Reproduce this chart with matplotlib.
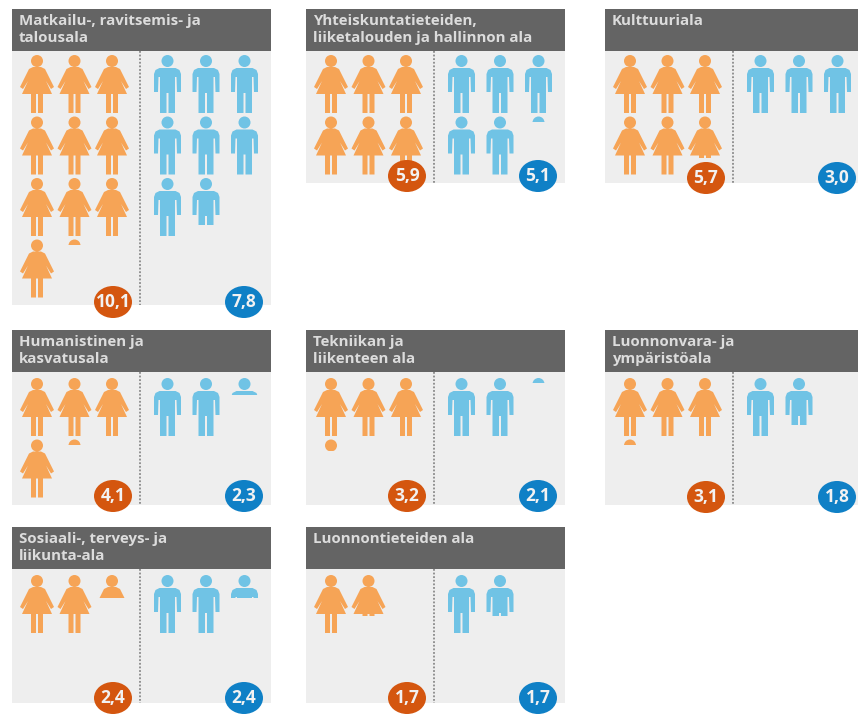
import math
import matplotlib
matplotlib.use('Agg')
import matplotlib.pyplot as plt
from matplotlib.patches import Rectangle, Ellipse, PathPatch
from matplotlib.path import Path
from matplotlib.transforms import Affine2D

plt.rcParams['font.family'] = ['Open Sans', 'DejaVu Sans']

# panel titles, left to right and top to bottom
titles = [
    'Matkailu-, ravitsemis- ja\ntalousala',
    'Yhteiskuntatieteiden,\nliiketalouden ja hallinnon ala',
    'Kulttuuriala',
    'Humanistinen ja\nkasvatusala',
    'Tekniikan ja\nliikenteen ala',
    'Luonnonvara- ja\nympäristöala',
    'Sosiaali-, terveys- ja\nliikunta-ala',
    'Luonnontieteiden ala',
]

women_labels = ['10,1', '5,9', '5,7', '4,1', '3,2', '3,1', '2,4', '1,7']
men_labels = ['7,8', '5,1', '3,0', '2,3', '2,1', '1,8', '2,4', '1,7']

# how many figures stand in each column of a panel
women_columns = [
    [4, 3.1, 3],
    [2, 2, 1.9],
    [2, 2, 1.7],
    [2, 1.1, 1],
    [1.2, 1, 1],
    [1.1, 1, 1],
    [1, 1, 0.4],
    [1, 0.7],
]
men_columns = [
    [3, 2.8, 2],
    [2, 2, 1.1],
    [1, 1, 1],
    [1, 1, 0.3],
    [1, 1, 0.1],
    [1, 0.8],
    [1, 1, 0.4],
    [1, 0.7],
]

# layout in pixels
panel_left = [12, 306, 605, 12, 306, 605, 12, 306]
panel_top = [9, 9, 9, 330, 330, 330, 527, 527]
panel_bottom = [305, 183, 183, 505, 505, 505, 703, 703]
icon_top = [55, 55, 55, 378, 378, 378, 575, 575]
badge_y = [302, 176, 178, 496, 496, 497, 698, 698]
PANEL_W = 259
HEADER_H = 42
ICON_H = 58
ROW_STEP = 61.5

ORANGE = '#f6a456'
BLUE = '#70c3e5'


def woman_path():
    head = Path.circle((0, 6), 6)
    body = [(-4, 12), (4, 12), (8, 14), (17, 32), (14, 34), (9, 26), (15, 39),
            (6, 39), (6, 58), (1, 58), (1, 39), (-1, 39), (-1, 58), (-6, 58),
            (-6, 39), (-15, 39), (-9, 26), (-14, 34), (-17, 32), (-8, 14), (-4, 12)]
    return Path.make_compound_path(head, Path(body, closed=True))


def man_path():
    head = Path.circle((0, 6), 6)
    body = [(-8, 13), (8, 13), (12, 15), (13.5, 19), (13.5, 37), (9.5, 37), (9, 22), (7.5, 22),
            (7.5, 58), (1, 58), (1, 38), (-1, 38), (-1, 58), (-7.5, 58), (-7.5, 22),
            (-9, 22), (-9.5, 37), (-13.5, 37), (-13.5, 19), (-12, 15), (-8, 13)]
    return Path.make_compound_path(head, Path(body, closed=True))


def draw_stack(ax, path, color, x, top, amount):
    for row in range(math.ceil(amount)):
        share = min(1, amount - row)
        y = top + row * ROW_STEP
        icon = PathPatch(path, facecolor=color, edgecolor='none',
                         transform=Affine2D().translate(x, y) + ax.transData, zorder=3)
        ax.add_patch(icon)
        clip = Rectangle((x - 25, y - 1), 50, (ICON_H + 2) * share,
                         transform=ax.transData)
        icon.set_clip_path(clip)


fig = plt.figure(figsize=(8.58, 7.15), dpi=100)
ax = fig.add_axes([0, 0, 1, 1])
ax.set_xlim(0, 858)
ax.set_ylim(715, 0)
ax.axis('off')

woman = woman_path()
man = man_path()

for i, title in enumerate(titles):
    left = panel_left[i]
    top = panel_top[i]
    bottom = panel_bottom[i]

    ax.add_patch(Rectangle((left, top), PANEL_W, bottom - top, facecolor='#eeeeee',
                           edgecolor='none', zorder=1))
    ax.add_patch(Rectangle((left, top), PANEL_W, HEADER_H, facecolor='#646464',
                           edgecolor='none', zorder=2))
    ax.text(left + 7, top + 5, title, color='#dcdcdc', fontsize=10.8, fontweight='bold',
            va='top', ha='left', linespacing=1.25, zorder=4)
    ax.plot([left + 128, left + 128], [top + HEADER_H, bottom], color='#8a8a8a', lw=1.3,
            ls=(0, (1, 1)), zorder=2)

    for c, amount in enumerate(women_columns[i]):
        draw_stack(ax, woman, ORANGE, left + 25 + c * 37.5, icon_top[i], amount)
    for c, amount in enumerate(men_columns[i]):
        draw_stack(ax, man, BLUE, left + 155.5 + c * 38.5, icon_top[i], amount)

    for dx, color, label in [(101, '#d4560f', women_labels[i]), (232, '#0f80c6', men_labels[i])]:
        ax.add_patch(Ellipse((left + dx, badge_y[i]), 38, 32, facecolor=color,
                             edgecolor='none', zorder=5))
        ax.text(left + dx, badge_y[i], label, color='#f2f2f2', fontsize=12.5, fontweight='bold',
                ha='center', va='center', zorder=6)

fig.savefig('out.png', dpi=100)
